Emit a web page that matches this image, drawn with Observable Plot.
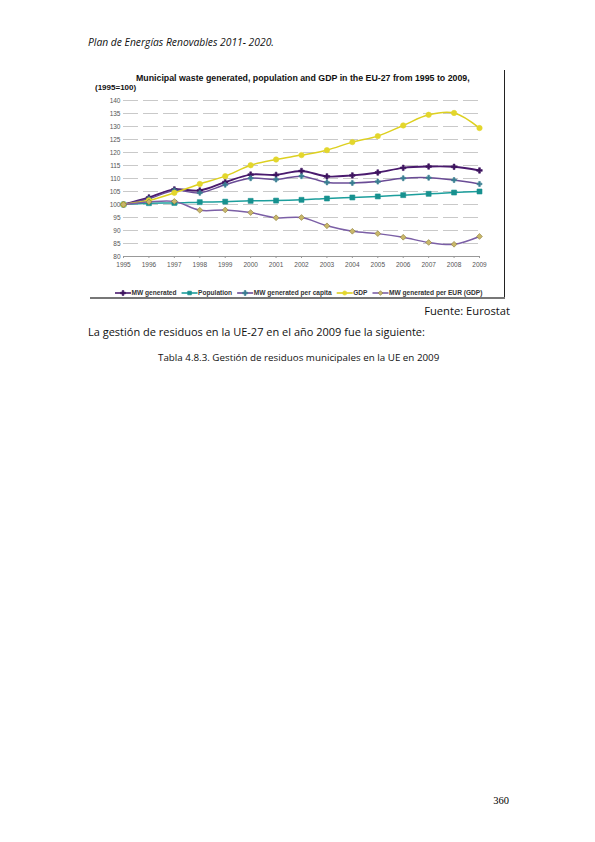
<!DOCTYPE html>
<html>
<head>
<meta charset="utf-8">
<script src="https://cdn.jsdelivr.net/npm/d3@7"></script>
<script src="https://cdn.jsdelivr.net/npm/@observablehq/plot@0.6"></script>
<style>
  body { margin: 0; width: 595px; height: 842px; position: relative; background: #fff; }
  .abs { position: absolute; white-space: nowrap; }
  .page { font-family: "Open Sans", sans-serif; color: #111; }
  .chart { font-family: "Liberation Sans", Arial, sans-serif; color: #111; font-weight: bold; }
</style>
</head>
<body>
<div class="abs page" style="left:88px;top:35px;font-size:10.3px;font-style:italic;">Plan de Energías Renovables 2011- 2020.</div>

<div class="abs chart" id="title" style="left:136px;top:73px;font-size:8.8px;line-height:10px;">Municipal waste generated, population and GDP in the EU-27 from 1995 to 2009,</div>
<div class="abs chart" style="left:95px;top:83px;font-size:8px;line-height:9px;">(1995=100)</div>

<div class="abs" id="chart" style="left:90px;top:92px;"></div>
<div class="abs" id="legend" style="left:90px;top:285px;"></div>

<div class="abs" style="left:504px;top:70px;width:1px;height:229px;background:#222;"></div>
<div class="abs" style="left:90px;top:297px;width:415px;height:1.5px;background:#777;"></div>

<div class="abs page" style="right:85px;top:303px;font-size:11.2px;">Fuente: Eurostat</div>
<div class="abs page" style="left:88px;top:324px;font-size:11px;">La gestión de residuos en la UE-27 en el año 2009 fue la siguiente:</div>
<div class="abs page" style="left:158px;top:351px;font-size:9.8px;">Tabla 4.8.3. Gestión de residuos municipales en la UE en 2009</div>
<div class="abs" style="right:86px;top:795px;font-size:10.5px;font-family:'Liberation Serif',serif;">360</div>

<script>
const years = [1995, 1996, 1997, 1998, 1999, 2000, 2001, 2002, 2003, 2004, 2005, 2006, 2007, 2008, 2009];

const mwGenerated   = [100, 102.7, 105.8, 105.4, 108.6, 111.5, 111.4, 112.9, 110.8, 111.2, 112.3, 114.1, 114.6, 114.5, 113.1];
const population    = [100, 100.5, 100.6, 100.9, 101.1, 101.4, 101.5, 101.8, 102.3, 102.7, 103.1, 103.6, 104.1, 104.6, 105.0];
const mwPerCapita   = [100, 102.2, 105.4, 104.5, 107.6, 110.1, 109.6, 110.9, 108.5, 108.3, 108.8, 110.1, 110.3, 109.4, 107.9];
const gdp           = [100, 101.6, 104.5, 107.9, 110.9, 115.1, 117.3, 119.0, 120.9, 124.0, 126.3, 130.4, 134.5, 135.2, 129.4];
const mwPerEur      = [100, 101.0, 101.2, 97.8, 97.9, 96.9, 94.9, 95.0, 91.8, 89.7, 88.8, 87.4, 85.4, 84.7, 87.7];

const seriesNames = ["MW generated", "Population", "MW generated per capita", "GDP", "MW generated per EUR (GDP)"];
const seriesValues = [mwGenerated, population, mwPerCapita, gdp, mwPerEur];
const lineColors   = ["#4a1a6e", "#1c9e9c", "#6a4c96", "#ddd020", "#7b5fa6"];
const markFills    = ["#3e145f", "#17918f", "#3a7f92", "#e3d62c", "#c9b86a"];
const markStrokes  = ["#3e145f", "#17918f", "#3a7f92", "#e3d62c", "#8a7838"];
const markSymbols  = ["cross", "square", "cross", "circle", "diamond2"];
const markSizes    = [2.3, 2.8, 2.1, 2.7, 2.6];

const yTicks = d3.range(80, 141, 5);

const rows = seriesNames.flatMap((name, i) =>
  years.map((year, j) => ({series: name, i, year, value: seriesValues[i][j]})));

const marks = [
  Plot.ruleY(yTicks.filter(t => t > 80), {
    y: d => d, x1: years[0], x2: years[years.length - 1],
    stroke: "#c9c9c9", strokeWidth: 1, strokeDasharray: "15,5"
  }),
  Plot.ruleY([80], {x1: years[0], x2: years[years.length - 1], stroke: "#999"}),
  Plot.axisY({ticks: yTicks, tickSize: 0, tickPadding: 3, fontSize: 6.5, label: null}),
  Plot.axisX({ticks: years, tickFormat: d => String(d), tickSize: 2, tickPadding: 4, fontSize: 6.5, label: null, stroke: "#999"})
];

seriesNames.forEach((name, i) => {
  const data = rows.filter(d => d.i === i);
  marks.push(Plot.line(data, {x: "year", y: "value", stroke: lineColors[i], strokeWidth: i === 0 ? 1.9 : 1.5, curve: "catmull-rom"}));
  marks.push(Plot.dot(data, {x: "year", y: "value", symbol: markSymbols[i], r: markSizes[i],
    fill: markFills[i], stroke: markStrokes[i], strokeWidth: 0.6}));
});

const chart = Plot.plot({
  width: 415,
  height: 190,
  marginLeft: 33,
  marginRight: 26,
  marginTop: 8,
  marginBottom: 26,
  x: {type: "linear", domain: [1995, 2009]},
  y: {domain: [80, 140]},
  style: {fontFamily: "'Liberation Sans', Arial, sans-serif", color: "#555", background: "transparent"},
  marks
});
document.getElementById("chart").append(chart);

// legend
const leg = d3.select("#legend").append("svg").attr("width", 415).attr("height", 12)
  .style("font-family", "'Liberation Sans', Arial, sans-serif");
let lx = 25;
seriesNames.forEach((name, i) => {
  const g = leg.append("g").attr("transform", `translate(${lx},6)`);
  g.append("line").attr("x1", 0).attr("x2", 16).attr("stroke", lineColors[i]).attr("stroke-width", 1.6);
  const sym = {cross: d3.symbolCross, square: d3.symbolSquare, circle: d3.symbolCircle, diamond2: d3.symbolDiamond2}[markSymbols[i]];
  g.append("path").attr("transform", "translate(8,0)")
    .attr("d", d3.symbol(sym, 14)())
    .attr("fill", markFills[i]).attr("stroke", markStrokes[i]).attr("stroke-width", 0.6);
  const t = g.append("text").attr("x", 16.5).attr("y", 2.2).attr("font-size", 6.6).attr("font-weight", "bold")
    .attr("fill", "#333").text(name);
  lx += 16.5 + t.node().getComputedTextLength() + 5;
});
</script>
</body>
</html>
